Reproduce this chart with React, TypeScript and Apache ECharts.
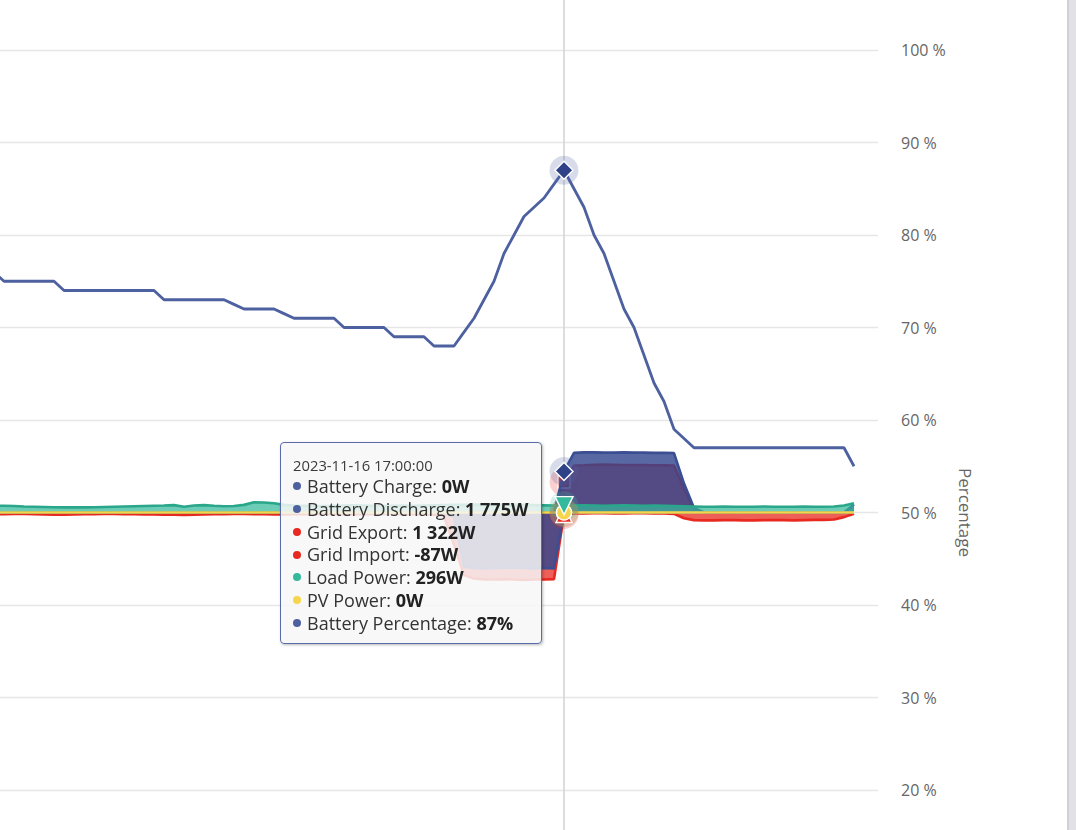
import React, { useEffect, useRef } from "react";
import * as echarts from "echarts";

// ---- data (5-minute samples, 2023-11-16 12:15 .. 19:25) ----
const START = new Date(2023, 10, 16, 12, 15, 0).getTime();
const STEP_MS = 5 * 60 * 1000;
const HOVER_INDEX = 57; // 17:00:00

const batteryPercentage = [
  76,
  75, 75, 75, 75, 75, 75,
  74, 74, 74, 74, 74, 74, 74, 74, 74, 74,
  73, 73, 73, 73, 73, 73, 73,
  72.5,
  72, 72, 72, 72,
  71.5,
  71, 71, 71, 71, 71,
  70, 70, 70, 70, 70,
  69, 69, 69, 69,
  68, 68, 68,
  69.5, 71, 73, 75, 78, 80, 82, 83, 84, 85.5, 87, 85, 83, 80, 78, 75, 72, 70, 67, 64, 62, 59, 58,
  57, 57, 57, 57, 57, 57, 57, 57, 57, 57, 57, 57, 57, 57, 57, 57,
  55,
];

const loadPower = [
  300, 290, 280, 260, 250, 240, 230, 220, 230, 220, 230, 240, 250, 260, 270, 280, 290, 300, 320, 250,
  300, 320, 290, 270, 280, 330, 440, 430, 400, 330, 300, 290, 280, 280, 290, 300, 310, 300, 290, 280,
  290, 300, 290, 300, 310, 320, 330,
  330, 340, 330, 320, 330, 340, 330, 320, 310, 300,
  296,
  300, 310, 300, 290, 300, 310, 300, 290, 300, 290, 280, 270,
  260, 250, 250, 260, 250, 250, 250, 260, 250, 250, 250, 260, 250, 250, 260,
  300, 400,
];

const gridImport = [
  -70, -70, -60, -60, -70, -80, -90, -90, -80, -70, -70, -60, -60, -70, -70,
  -80, -80, -90, -100, -110, -90, -80, -70, -70, -60, -60, -70, -70, -80, -80,
  -70, -70, -60, -60, -70, -80, -80, -70, -70, -60, -60, -70, -70, -80, -90,
  -150, -1400, -2700,
  -2850, -2900, -2900, -2880, -2900, -2920, -2900, -2900, -2880,
  -87,
  -40, -40, -30, -30, -40, -40, -30, -30, -40, -40,
  -60, -250,
  -330, -340, -340, -330, -330, -340, -340, -330, -330, -330, -340, -330, -320, -320,
  -300, -200, -60,
];

const batteryCharge = [
  0, 0, 0, 0, 0, 0, 0, 0, 0, 0, 0, 0, 0, 0, 0, 0, 0, 0, 0, 0, 0, 0, 0,
  0, 0, 0, 0, 0, 0, 0, 0, 0, 0, 0, 0, 0, 0, 0, 0, 0, 0, 0, 0, 0, 0, 0,
  -200, -2350,
  -2400, -2420, -2400, -2400, -2380, -2400, -2420, -2400, -2420,
  0,
  0, 0, 0, 0, 0, 0, 0, 0, 0, 0, 0, 0, 0, 0, 0, 0, 0, 0, 0, 0, 0, 0, 0, 0, 0, 0, 0, 0, 0,
];

const batteryDischarge = [
  0, 0, 0, 0, 0, 0, 0, 0, 0, 0, 0, 0, 0, 0, 0, 0, 0, 0, 0, 0, 0, 0, 0, 0, 0, 0, 0, 0, 0,
  0, 0, 0, 0, 0, 0, 0, 0, 0, 0, 0, 0, 0, 0, 0, 0, 0, 0, 0, 0, 0, 0, 0, 0, 0, 0, 0, 0,
  1775,
  2580, 2600, 2600, 2590, 2590, 2600, 2590, 2590, 2580, 2580, 2570,
  1250, 200,
  0, 0, 0, 0, 0, 0, 0, 0, 0, 0, 0, 0, 0, 0, 0,
  350,
];

const gridExport = [
  0, 0, 0, 0, 0, 0, 0, 0, 0, 0, 0, 0, 0, 0, 0, 0, 0, 0, 0, 0, 0, 0, 0, 0, 0, 0, 0, 0, 0,
  0, 0, 0, 0, 0, 0, 0, 0, 0, 0, 0, 0, 0, 0, 0, 0, 0, 0, 0, 0, 0, 0, 0, 0, 0, 0, 0, 0,
  1322,
  2030, 2040, 2060, 2070, 2060, 2050, 2050, 2050, 2040, 2040, 2030,
  1030, 150,
  0, 0, 0, 0, 0, 0, 0, 0, 0, 0, 0, 0, 0, 0, 0, 0,
];

const pvPower = [
  0, 0, 0, 0, 0, 0, 0, 0, 0, 0, 0, 0, 0, 0, 0, 0, 0, 0, 0, 0, 0, 0, 0, 0, 0, 0, 0, 0, 0,
  0, 0, 0, 0, 0, 0, 0, 0, 0, 0, 0, 0, 0, 0, 0, 0, 0, 0, 0, 0, 0, 0, 0, 0, 0, 0, 0, 0, 0,
  0, 0, 0, 0, 0, 0, 0, 0, 0, 0, 0, 0, 0, 0, 0, 0, 0, 0, 0, 0, 0, 0, 0, 0, 0, 0, 0, 0, 0,
];

const percentTicks = { min: 0, max: 100, interval: 10, firstVisibleLabel: 20 };
const powerRange = { min: -20000, max: 20000 };

// ---- styling ----
const NAVY = "#33478f";
const NAVY_LINE = "#4d60a0";
const RED = "#e8291f";
const TEAL = "#34b99a";
const TEAL_LINE = "#2aa78b";
const YELLOW = "#f7d54a";
const FONT = "'Open Sans', 'Noto Sans', sans-serif";

const OFFX = 100;
const CW = 1176;
const CH = 1050;

const times = batteryPercentage.map((_, i) => START + i * STEP_MS);
const pairs = (arr: number[]) => arr.map((v, i) => [times[i], v]);

const fmtW = (v: number) =>
  String(Math.round(v)).replace(/\B(?=(\d{3})+(?!\d))/g, " ") + "W";
const pad = (n: number) => String(n).padStart(2, "0");
const fmtTime = (t: number) => {
  const d = new Date(t);
  return `${d.getFullYear()}-${pad(d.getMonth() + 1)}-${pad(d.getDate())} ${pad(
    d.getHours()
  )}:${pad(d.getMinutes())}:${pad(d.getSeconds())}`;
};

function areaSeries(
  name: string,
  data: number[],
  color: string,
  opacity: number,
  z: number,
  lineColor?: string
) {
  return {
    name,
    type: "line",
    yAxisIndex: 0,
    data: pairs(data),
    showSymbol: false,
    symbol: "none",
    silent: true,
    z,
    emphasis: { disabled: true },
    lineStyle: { color: lineColor || color, width: 2.6 },
    itemStyle: { color },
    areaStyle: { color, opacity },
  };
}

function halo(data: number[], color: string, yAxisIndex: number, z: number) {
  return {
    type: "scatter",
    yAxisIndex,
    data: [[times[HOVER_INDEX], data[HOVER_INDEX]]],
    symbol: "circle",
    symbolSize: 29,
    silent: true,
    z,
    itemStyle: { color, opacity: 0.22 },
  };
}

function marker(
  name: string,
  data: number[],
  color: string,
  symbol: string,
  size: number,
  yAxisIndex: number,
  z: number,
  rotate = 0
) {
  return {
    name,
    type: "scatter",
    yAxisIndex,
    data: [[times[HOVER_INDEX], data[HOVER_INDEX]]],
    symbol,
    symbolSize: size,
    symbolRotate: rotate,
    z,
    itemStyle: { color, borderColor: "#ffffff", borderWidth: 1.4, opacity: 1 },
    emphasis: { disabled: true },
  };
}

function tooltipHtml() {
  const i = HOVER_INDEX;
  const rows: [string, string, string][] = [
    ["Battery Charge", NAVY_LINE, fmtW(batteryCharge[i])],
    ["Battery Discharge", NAVY_LINE, fmtW(batteryDischarge[i])],
    ["Grid Export", RED, fmtW(gridExport[i])],
    ["Grid Import", RED, fmtW(gridImport[i])],
    ["Load Power", TEAL, fmtW(loadPower[i])],
    ["PV Power", YELLOW, fmtW(pvPower[i])],
    ["Battery Percentage", NAVY_LINE, Math.round(batteryPercentage[i]) + "%"],
  ];
  const head = `<div style="font-size:14.8px;line-height:20px;color:#3a3a3a;">${fmtTime(
    times[i]
  )}</div>`;
  const body = rows
    .map(
      ([n, c, v]) =>
        `<div style="font-size:18px;line-height:22.8px;color:#333;white-space:nowrap;"><span style="display:inline-block;width:8px;height:8px;border-radius:50%;background:${c};margin-right:6px;vertical-align:middle;position:relative;top:-2px;"></span>${n}: <b style="font-weight:700;color:#222;">${v}</b></div>`
    )
    .join("");
  return head + body;
}

export default function App() {
  const ref = useRef<HTMLDivElement>(null);

  useEffect(() => {
    if (!ref.current) return;
    const chart = echarts.init(ref.current, null, { renderer: "svg" });
    const series: any[] = [
      areaSeries("Grid Export", gridExport, RED, 0.75, 2),
      areaSeries("Grid Import", gridImport, RED, 0.75, 2),
      halo(gridExport, RED, 0, 2),
      marker("Grid Export", gridExport, RED, "rect", 12, 0, 2),
      areaSeries("Battery Charge", batteryCharge, NAVY, 0.82, 3, "#3b4e92"),
      areaSeries("Battery Discharge", batteryDischarge, NAVY, 0.82, 3, "#3b4e92"),
      areaSeries("Load Power", loadPower, TEAL, 0.72, 4, TEAL_LINE),
      areaSeries("PV Power", pvPower, YELLOW, 0.75, 5),
      {
        name: "Battery Percentage",
        type: "line",
        yAxisIndex: 1,
        data: pairs(batteryPercentage),
        showSymbol: false,
        symbol: "none",
        silent: true,
        emphasis: { disabled: true },
        lineStyle: { color: NAVY_LINE, width: 2.8 },
        itemStyle: { color: NAVY_LINE },
        z: 6,
      },
      halo(batteryCharge, NAVY_LINE, 0, 8),
      halo(batteryDischarge, NAVY_LINE, 0, 8),
      halo(gridImport, RED, 0, 8),
      halo(pvPower, YELLOW, 0, 8),
      halo(loadPower, TEAL, 0, 8),
      halo(batteryPercentage, NAVY_LINE, 1, 8),
      marker("Battery Charge", batteryCharge, NAVY_LINE, "circle", 15, 0, 9),
      marker("Battery Discharge", batteryDischarge, "#2f4288", "diamond", 18, 0, 9),
      marker("Grid Import", gridImport, RED, "triangle", 16, 0, 9),
      marker("PV Power", pvPower, YELLOW, "circle", 15, 0, 9),
      marker("Load Power", loadPower, TEAL, "triangle", 18, 0, 9, 180),
      marker("Battery Percentage", batteryPercentage, "#2f4288", "diamond", 18, 1, 9),
    ];
    const tipSeries = series.length - 1;

    chart.setOption({
      animation: false,
      backgroundColor: "#ffffff",
      grid: { left: 40, right: 198, top: 50, bottom: 75, outerBoundsMode: "none" },
      xAxis: {
        type: "time",
        min: times[0] - 27 * 60 * 1000,
        max: times[times.length - 1] + 12 * 60 * 1000,
        show: false,
      },
      yAxis: [
        {
          type: "value",
          min: powerRange.min,
          max: powerRange.max,
          show: false,
          splitLine: { show: false },
        },
        {
          type: "value",
          position: "right",
          min: percentTicks.min,
          max: percentTicks.max,
          interval: percentTicks.interval,
          name: "Percentage",
          nameLocation: "middle",
          nameRotate: -90,
          nameGap: 76,
          nameTextStyle: { color: "#666666", fontSize: 17, fontFamily: FONT },
          axisLine: { show: false },
          axisTick: { show: false },
          axisLabel: {
            formatter: (v: number) => (v >= percentTicks.firstVisibleLabel ? `${v} %` : ""),
            color: "#666666",
            fontSize: 16,
            fontFamily: FONT,
            margin: 23,
          },
          splitLine: { show: true, lineStyle: { color: "#e6e6e6", width: 1.4 } },
        },
      ],
      tooltip: {
        trigger: "item",
        alwaysShowContent: true,
        triggerOn: "none",
        transitionDuration: 0,
        position: [280 + OFFX, 442],
        backgroundColor: "rgba(247,247,247,0.85)",
        borderColor: "#5a6ca8",
        borderWidth: 1.5,
        padding: [12, 13, 8, 12],
        textStyle: { fontFamily: FONT, color: "#333" },
        extraCssText:
          "border-radius:4px;box-shadow:1px 1px 3px rgba(0,0,0,0.28);font-family:'Open Sans',sans-serif;",
        formatter: () => tooltipHtml(),
      },
      series,
    });

    const px = chart.convertToPixel({ xAxisIndex: 0 }, times[HOVER_INDEX]) as number;
    chart.setOption({
      graphic: {
        elements: [
          {
            type: "line",
            silent: true,
            z: 1,
            shape: { x1: px, y1: 0, x2: px, y2: CH },
            style: { stroke: "#d2d2d2", lineWidth: 1.5 },
          },
        ],
      },
    });
    chart.dispatchAction({ type: "showTip", seriesIndex: tipSeries, dataIndex: 0 });

    return () => chart.dispose();
  }, []);

  return (
    <div
      style={{
        position: "fixed",
        left: 0,
        top: 0,
        width: 1076,
        height: 830,
        overflow: "hidden",
        background: "#ffffff",
      }}
    >
      <div
        ref={ref}
        style={{ position: "absolute", left: -OFFX, top: 0, width: CW, height: CH }}
      />
      <div
        style={{
          position: "absolute",
          left: 1067,
          top: 0,
          width: 9,
          height: 830,
          background: "#e2e2e6",
          borderLeft: "2px solid #d0d0d6",
          boxSizing: "border-box",
        }}
      />
    </div>
  );
}
